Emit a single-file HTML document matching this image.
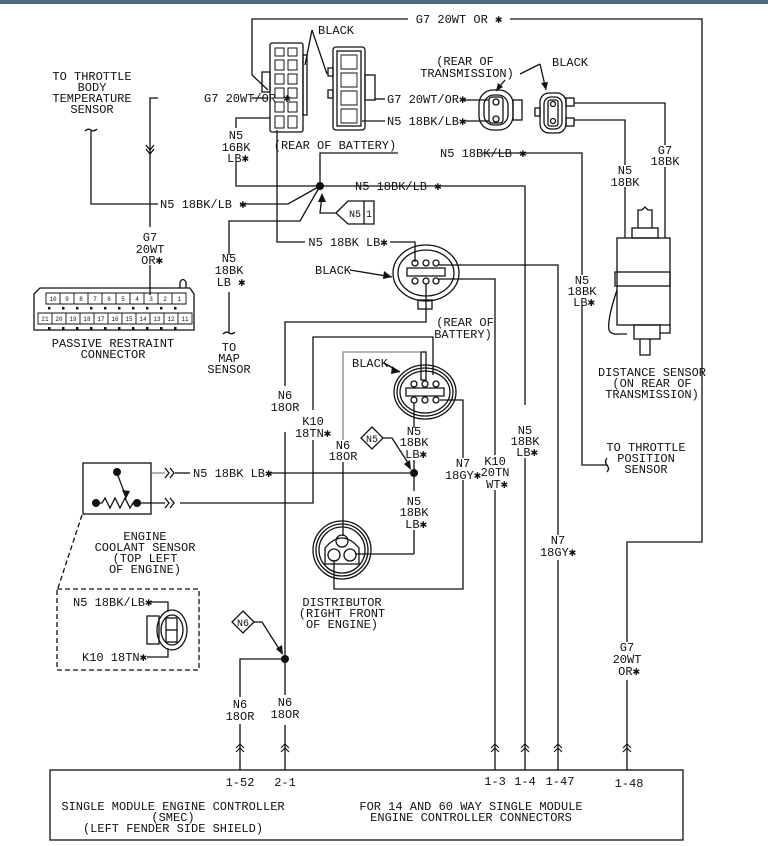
<!DOCTYPE html>
<html><head><meta charset="utf-8"><style>
html,body{margin:0;padding:0;background:#fff;}
svg{display:block;}
text{font-family:"Liberation Mono","DejaVu Sans Mono",monospace;font-size:12px;fill:#111;}
.m{text-anchor:middle;}
.e{text-anchor:end;}
</style></head><body>
<svg width="768" height="846" viewBox="0 0 768 846" xmlns="http://www.w3.org/2000/svg">
<rect x="0" y="0" width="768" height="4" fill="#4f6a86"/>
<g fill="none" stroke="#111" stroke-width="1.3">
<polyline points="252,75 252,19 408,19"/>
<polyline points="510,19 702,19 702,542 627,542 627,642"/>
<line x1="627" y1="680" x2="627" y2="770"/>
<line x1="252" y1="75" x2="268" y2="90"/>
<rect x="270" y="43" width="33" height="89" rx="2"/>
<rect x="262" y="72" width="8" height="20"/>
<rect x="303" y="55" width="4" height="60"/>
<g stroke-width="1">
<path d="M275,48 h9 v8 h-9 z M288,48 h9 v8 h-9 z M275,60 h9 v10 h-9 z M288,60 h9 v10 h-9 z M275,74 h9 v10 h-9 z M288,74 h9 v10 h-9 z M275,88 h9 v10 h-9 z M288,88 h9 v10 h-9 z M275,102 h9 v10 h-9 z M288,102 h9 v10 h-9 z M275,116 h9 v12 h-9 z M288,116 h9 v12 h-9 z"/>
</g>
<rect x="333" y="47" width="32" height="83" rx="3"/>
<rect x="337" y="51" width="24" height="75"/>
<rect x="365" y="75" width="10" height="25"/>
<rect x="328" y="68" width="5" height="8"/>
<rect x="328" y="90" width="5" height="8"/>
<path d="M341,55 h16 v14 h-16 z M341,73 h16 v14 h-16 z M341,91 h16 v14 h-16 z M341,109 h16 v14 h-16 z" stroke-width="0.9"/>
<line x1="312" y1="30" x2="305" y2="65"/>
<line x1="312" y1="30" x2="327" y2="74"/>
<line x1="375" y1="99" x2="385" y2="99"/>
<line x1="362" y1="121" x2="385" y2="121"/>
<polyline points="158,98 150,98 150,227"/>
<line x1="150" y1="265" x2="150" y2="295"/>
<line x1="252" y1="98" x2="268" y2="98"/>
<polyline points="146,145 150,150 154,145"/>
<polyline points="146,149 150,154 154,149"/>
<polyline points="91,130 91,204 158,204"/>
<path d="M85,131 q3,-3 6,-1 q3,2 6,-1"/>
<polyline points="240,204 288,204 320,186"/>
<polyline points="270,118 236,118 236,128"/>
<polyline points="236,162 236,186 525,186 525,405"/>
<line x1="525" y1="458" x2="525" y2="770"/>
<polyline points="320,186 320,153 398,153"/>
<polyline points="482,153 582,153 582,275"/>
<polyline points="582,305 582,465 607,465"/>
<path d="M607,458 q-3,4 0,7 q3,4 0,7"/>
<polyline points="320,186 300,221 229,221 229,255"/>
<line x1="229" y1="292" x2="229" y2="333"/>
<path d="M223,334 q3,-3 6,-1 q3,2 6,-1"/>
<polyline points="277,130 277,242 305,242"/>
<polyline points="390,242 415,242 415,262"/>
<ellipse cx="426" cy="273" rx="33" ry="28"/>
<ellipse cx="426" cy="273" rx="28" ry="23"/>
<path d="M407,268 h38 v8 h-38 z"/>
<circle cx="415" cy="263" r="3"/><circle cx="426" cy="263" r="3"/><circle cx="436" cy="263" r="3"/>
<circle cx="415" cy="281" r="3"/><circle cx="426" cy="281" r="3"/><circle cx="436" cy="281" r="3"/>
<rect x="418" y="300" width="14" height="9"/>
<line x1="350" y1="270" x2="392" y2="277"/>
<polyline points="439,265 558,265 558,535"/>
<line x1="558" y1="560" x2="558" y2="770"/>
<polyline points="439,279 495,279 495,455"/>
<line x1="495" y1="490" x2="495" y2="770"/>
<polyline points="426,284 426,322 285,322 285,386"/>
<line x1="285" y1="432" x2="285" y2="695"/>
<line x1="285" y1="725" x2="285" y2="770"/>
<polyline points="285,659 240,659 240,697"/>
<line x1="240" y1="724" x2="240" y2="770"/>
<polyline points="313,410 313,337 433,337 433,375"/>
<polyline points="313,440 313,503 180,503"/>
<ellipse cx="425" cy="392" rx="31" ry="27"/>
<ellipse cx="425" cy="392" rx="28" ry="24"/>
<ellipse cx="425" cy="392" rx="25" ry="21"/>
<path d="M406,388 h38 v8 h-38 z"/>
<circle cx="414" cy="384" r="3"/><circle cx="425" cy="384" r="3"/><circle cx="436" cy="384" r="3"/>
<circle cx="414" cy="400" r="3"/><circle cx="425" cy="400" r="3"/><circle cx="436" cy="400" r="3"/>
<rect x="421" y="352" width="5" height="28"/>
<line x1="384" y1="363" x2="400" y2="372"/>
<polyline points="343,440 343,352 421,352" stroke="#888"/>
<line x1="343" y1="462" x2="343" y2="536"/>
<polyline points="440,400 463,400 463,458"/>
<polyline points="463,480 463,589 334,589 334,560"/>
<line x1="414" y1="403" x2="414" y2="428"/>
<line x1="414" y1="460" x2="414" y2="491"/>
<line x1="414" y1="530" x2="414" y2="554"/>
<line x1="414" y1="554" x2="355" y2="554"/>
<line x1="270" y1="473" x2="414" y2="473"/>
<line x1="152" y1="473" x2="165" y2="473" stroke="#888"/>
<line x1="175" y1="473" x2="190" y2="473"/>
<line x1="137" y1="503" x2="165" y2="503"/>
<polyline points="165,468 169,473 165,478"/><polyline points="170,468 174,473 170,478"/>
<polyline points="165,498 169,503 165,508"/><polyline points="170,498 174,503 170,508"/>
<circle cx="342" cy="550" r="29"/>
<circle cx="342" cy="550" r="26"/>
<circle cx="342" cy="550" r="23"/>
<path d="M325,564 v-16 q17,-20 34,0 v16 z"/>
<circle cx="342" cy="541" r="6"/><circle cx="334" cy="555" r="6"/><circle cx="350" cy="555" r="6"/>
<rect x="83" y="463" width="68" height="51"/>
<polyline points="96,503 102,503 105,498 110,508 115,498 120,508 125,498 130,508 133,503 137,503"/>
<line x1="117" y1="473" x2="126" y2="497"/>
<line x1="82" y1="515" x2="58" y2="588" stroke-dasharray="5,3"/>
<rect x="57" y="589" width="142" height="81" stroke-dasharray="5,3"/>
<polyline points="147,602 168,602 168,612"/>
<polyline points="147,657 168,657 168,648"/>
<ellipse cx="172" cy="630" rx="15" ry="20"/>
<ellipse cx="172" cy="630" rx="11" ry="15"/>
<rect x="166" y="618" width="11" height="24"/>
<line x1="166" y1="630" x2="177" y2="630"/>
<rect x="147" y="616" width="12" height="28"/>
<polygon points="336,213 348,201 374,201 374,224 348,224"/>
<line x1="364" y1="201" x2="364" y2="224"/>
<polyline points="336,213 320,213 322,195"/>
<polygon points="372,427 383,438 372,449 361,438"/>
<polyline points="383,438 392,438 410,466"/>
<polygon points="243,611 254,622 243,633 232,622"/>
<polyline points="254,622 262,622 281,652"/>
<rect x="479" y="90" width="34" height="40" rx="14"/>
<rect x="484" y="95" width="24" height="30" rx="10"/>
<rect x="489" y="97" width="14" height="26" rx="3"/>
<circle cx="496" cy="102" r="3"/><circle cx="496" cy="119" r="3"/>
<rect x="513" y="100" width="9" height="20"/>
<line x1="462" y1="100" x2="489" y2="100"/>
<line x1="462" y1="121" x2="489" y2="121"/>
<line x1="505" y1="80" x2="496" y2="91"/>
<rect x="540" y="93" width="26" height="40" rx="9"/>
<rect x="544" y="97" width="18" height="32" rx="7"/>
<rect x="548" y="100" width="10" height="26" rx="2"/>
<circle cx="553" cy="104" r="2.5"/><circle cx="553" cy="121" r="2.5"/>
<rect x="535" y="108" width="5" height="8"/>
<rect x="566" y="98" width="8" height="8"/><rect x="566" y="118" width="8" height="8"/>
<line x1="540" y1="64" x2="546" y2="90"/>
<line x1="540" y1="64" x2="520" y2="74"/>
<polyline points="574,103 665,103 665,145"/>
<polyline points="574,120 625,120 625,165"/>
<line x1="665" y1="167" x2="665" y2="238"/>
<line x1="625" y1="187" x2="625" y2="238"/>
<rect x="617" y="238" width="53" height="87"/>
<rect x="615" y="272" width="55" height="14"/>
<rect x="632" y="228" width="26" height="10"/>
<path d="M638,228 v-18 h4 l3,-3 l3,3 h4 v18"/>
<rect x="634" y="325" width="26" height="14"/>
<path d="M640,339 v16 h10 v-16"/>
<path d="M617,290 q-10,30 -8,40 q2,5 10,4 h8 M670,325 v8 h-10"/>
<path d="M40,288 h150 l4,6 v36 h-160 v-36 l6,-6 z"/>
<path d="M180,288 v-6 q3,-5 6,0 v6"/>
<rect x="50" y="770" width="633" height="70"/>
</g>
<g fill="none" stroke="#111" stroke-width="0.9">
<path d="M46,293 h140 v11 h-140 z M60,293 v11 M74,293 v11 M88,293 v11 M102,293 v11 M116,293 v11 M130,293 v11 M144,293 v11 M158,293 v11 M172,293 v11"/>
<path d="M38,313 h154 v11 h-154 z M52,313 v11 M66,313 v11 M80,313 v11 M94,313 v11 M108,313 v11 M122,313 v11 M136,313 v11 M150,313 v11 M164,313 v11 M178,313 v11"/>
</g>
<g fill="#111">
<rect x="48" y="307" width="2.5" height="2.5"/><rect x="62" y="307" width="2.5" height="2.5"/><rect x="76" y="307" width="2.5" height="2.5"/><rect x="90" y="307" width="2.5" height="2.5"/><rect x="104" y="307" width="2.5" height="2.5"/><rect x="118" y="307" width="2.5" height="2.5"/><rect x="132" y="307" width="2.5" height="2.5"/><rect x="146" y="307" width="2.5" height="2.5"/><rect x="160" y="307" width="2.5" height="2.5"/><rect x="174" y="307" width="2.5" height="2.5"/>
<rect x="48" y="327" width="2.5" height="2.5"/><rect x="62" y="327" width="2.5" height="2.5"/><rect x="76" y="327" width="2.5" height="2.5"/><rect x="90" y="327" width="2.5" height="2.5"/><rect x="104" y="327" width="2.5" height="2.5"/><rect x="118" y="327" width="2.5" height="2.5"/><rect x="132" y="327" width="2.5" height="2.5"/><rect x="146" y="327" width="2.5" height="2.5"/><rect x="160" y="327" width="2.5" height="2.5"/><rect x="174" y="327" width="2.5" height="2.5"/>
<circle cx="320" cy="186" r="4"/>
<circle cx="414" cy="473" r="4"/>
<circle cx="285" cy="659" r="4"/>
<circle cx="117" cy="472" r="4"/><circle cx="96" cy="503" r="4"/><circle cx="137" cy="503" r="4"/>
<polygon points="126,499 122,490 130,491"/>
<polygon points="322,193 318,202 326,202"/>
<polygon points="411,470 404,464 410,460"/>
<polygon points="283,655 276,649 282,645"/>
<polygon points="392,277 384,271 383,279"/>
<polygon points="400,372 392,366 391,374"/>
<polygon points="496,91 498,83 503,87"/>
<polygon points="546,90 541,83 548,82"/>
</g>
<g style="font-size:6px">
<text x="53" y="301" class="m" style="font-size:6px">10</text><text x="67" y="301" class="m" style="font-size:6px">9</text><text x="81" y="301" class="m" style="font-size:6px">8</text><text x="95" y="301" class="m" style="font-size:6px">7</text><text x="109" y="301" class="m" style="font-size:6px">6</text><text x="123" y="301" class="m" style="font-size:6px">5</text><text x="137" y="301" class="m" style="font-size:6px">4</text><text x="151" y="301" class="m" style="font-size:6px">3</text><text x="165" y="301" class="m" style="font-size:6px">2</text><text x="179" y="301" class="m" style="font-size:6px">1</text>
<text x="45" y="321" class="m" style="font-size:6px">21</text><text x="59" y="321" class="m" style="font-size:6px">20</text><text x="73" y="321" class="m" style="font-size:6px">19</text><text x="87" y="321" class="m" style="font-size:6px">18</text><text x="101" y="321" class="m" style="font-size:6px">17</text><text x="115" y="321" class="m" style="font-size:6px">16</text><text x="129" y="321" class="m" style="font-size:6px">15</text><text x="143" y="321" class="m" style="font-size:6px">14</text><text x="157" y="321" class="m" style="font-size:6px">13</text><text x="171" y="321" class="m" style="font-size:6px">12</text><text x="185" y="321" class="m" style="font-size:6px">11</text>
</g>
<g fill="none" stroke="#111" stroke-width="1.1">
<polyline points="236,748 240,744 244,748"/><polyline points="236,752 240,748 244,752"/>
<polyline points="281,748 285,744 289,748"/><polyline points="281,752 285,748 289,752"/>
<polyline points="491,748 495,744 499,748"/><polyline points="491,752 495,748 499,752"/>
<polyline points="521,748 525,744 529,748"/><polyline points="521,752 525,748 529,752"/>
<polyline points="554,748 558,744 562,748"/><polyline points="554,752 558,748 562,752"/>
<polyline points="623,748 627,744 631,748"/><polyline points="623,752 627,748 631,752"/>
</g>
<text x="459" y="23" class="m">G7 20WT OR ✱</text>
<text x="318" y="34">BLACK</text>
<text x="387" y="103">G7 20WT/OR✱</text>
<text x="387" y="125">N5 18BK/LB✱</text>
<text x="335" y="149" class="m">(REAR OF BATTERY)</text>
<text x="440" y="157">N5 18BK/LB ✱</text>
<text x="355" y="190">N5 18BK/LB ✱</text>
<text x="160" y="208">N5 18BK/LB ✱</text>
<text x="204" y="102">G7 20WT/OR ✱</text>
<text x="369" y="217" style="font-size:10px" class="m">1</text>
<text x="349" y="217" style="font-size:10px">N5</text>
<text x="236" y="139" class="m">N5</text><text x="236" y="151" class="m">16BK</text><text x="238" y="162" class="m">LB✱</text>
<text x="92" y="80" class="m">TO THROTTLE</text><text x="92" y="91" class="m">BODY</text><text x="92" y="102" class="m">TEMPERATURE</text><text x="92" y="113" class="m">SENSOR</text>
<text x="150" y="241" class="m">G7</text><text x="150" y="253" class="m">20WT</text><text x="152" y="264" class="m">OR✱</text>
<text x="229" y="262" class="m">N5</text><text x="229" y="274" class="m">18BK</text><text x="231" y="286" class="m">LB ✱</text>
<text x="229" y="351" class="m">TO</text><text x="229" y="362" class="m">MAP</text><text x="229" y="373" class="m">SENSOR</text>
<text x="113" y="347" class="m">PASSIVE RESTRAINT</text><text x="113" y="358" class="m">CONNECTOR</text>
<text x="348" y="246" class="m">N5 18BK LB✱</text>
<text x="315" y="274">BLACK</text>
<text x="465" y="326" class="m">(REAR OF</text><text x="463" y="338" class="m">BATTERY)</text>
<text x="352" y="367">BLACK</text>
<text x="465" y="65" class="m">(REAR OF</text><text x="467" y="77" class="m">TRANSMISSION)</text>
<text x="552" y="66">BLACK</text>
<text x="665" y="154" class="m">G7</text><text x="665" y="165" class="m">18BK</text>
<text x="625" y="174" class="m">N5</text><text x="625" y="186" class="m">18BK</text>
<text x="582" y="284" class="m">N5</text><text x="582" y="295" class="m">18BK</text><text x="584" y="306" class="m">LB✱</text>
<text x="652" y="376" class="m">DISTANCE SENSOR</text><text x="652" y="387" class="m">(ON REAR OF</text><text x="652" y="398" class="m">TRANSMISSION)</text>
<text x="646" y="451" class="m">TO THROTTLE</text><text x="646" y="462" class="m">POSITION</text><text x="646" y="473" class="m">SENSOR</text>
<text x="285" y="399" class="m">N6</text><text x="285" y="411" class="m">18OR</text>
<text x="313" y="425" class="m">K10</text><text x="313" y="437" class="m">18TN✱</text>
<text x="343" y="449" class="m">N6</text><text x="343" y="460" class="m">18OR</text>
<text x="372" y="442" style="font-size:10px" class="m">N5</text>
<text x="414" y="435" class="m">N5</text><text x="414" y="446" class="m">18BK</text><text x="416" y="458" class="m">LB✱</text>
<text x="414" y="505" class="m">N5</text><text x="414" y="516" class="m">18BK</text><text x="416" y="528" class="m">LB✱</text>
<text x="463" y="467" class="m">N7</text><text x="463" y="479" class="m">18GY✱</text>
<text x="495" y="465" class="m">K10</text><text x="495" y="476" class="m">20TN</text><text x="497" y="488" class="m">WT✱</text>
<text x="525" y="434" class="m">N5</text><text x="525" y="445" class="m">18BK</text><text x="527" y="456" class="m">LB✱</text>
<text x="558" y="544" class="m">N7</text><text x="558" y="556" class="m">18GY✱</text>
<text x="193" y="477">N5 18BK LB✱</text>
<text x="145" y="540" class="m">ENGINE</text><text x="145" y="551" class="m">COOLANT SENSOR</text><text x="145" y="562" class="m">(TOP LEFT</text><text x="145" y="573" class="m">OF ENGINE)</text>
<text x="342" y="606" class="m">DISTRIBUTOR</text><text x="342" y="617" class="m">(RIGHT FRONT</text><text x="342" y="628" class="m">OF ENGINE)</text>
<text x="73" y="606">N5 18BK/LB✱</text>
<text x="82" y="661">K10 18TN✱</text>
<text x="243" y="626" style="font-size:10px" class="m">N6</text>
<text x="240" y="708" class="m">N6</text><text x="240" y="720" class="m">18OR</text>
<text x="285" y="706" class="m">N6</text><text x="285" y="718" class="m">18OR</text>
<text x="627" y="651" class="m">G7</text><text x="627" y="663" class="m">20WT</text><text x="629" y="675" class="m">OR✱</text>
<text x="240" y="786" class="m">1-52</text><text x="285" y="786" class="m">2-1</text>
<text x="495" y="785" class="m">1-3</text><text x="525" y="785" class="m">1-4</text><text x="560" y="785" class="m">1-47</text><text x="629" y="787" class="m">1-48</text>
<text x="173" y="810" class="m">SINGLE MODULE ENGINE CONTROLLER</text>
<text x="173" y="821" class="m">(SMEC)</text>
<text x="173" y="832" class="m">(LEFT FENDER SIDE SHIELD)</text>
<text x="471" y="810" class="m">FOR 14 AND 60 WAY SINGLE MODULE</text>
<text x="471" y="821" class="m">ENGINE CONTROLLER CONNECTORS</text>
</svg>
</body></html>
